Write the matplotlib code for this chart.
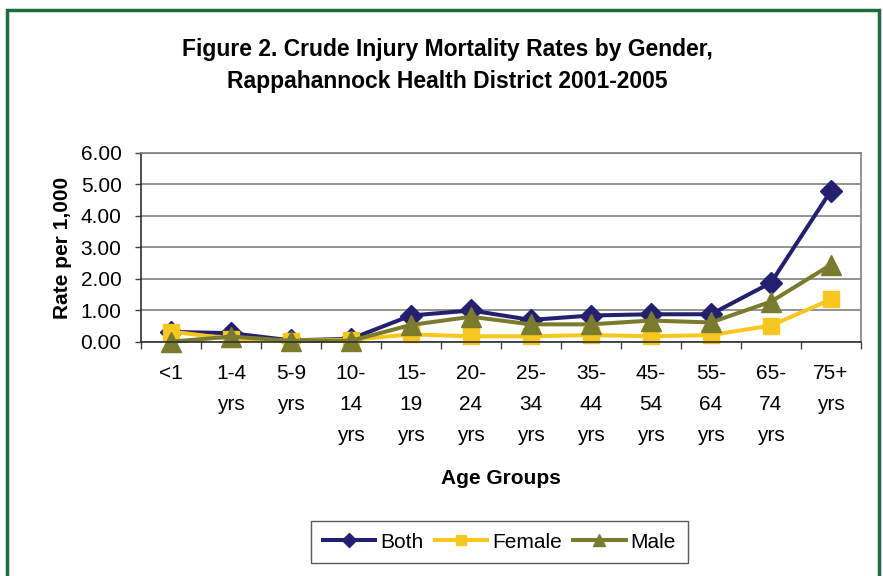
import matplotlib.pyplot as plt
import numpy as np
from matplotlib.patches import Rectangle

plt.rcParams['font.family'] = ['Liberation Sans', 'DejaVu Sans']

# Data
age_groups = ['<1', '1-4\nyrs', '5-9\nyrs', '10-\n14\nyrs', '15-\n19\nyrs', '20-\n24\nyrs',
              '25-\n34\nyrs', '35-\n44\nyrs', '45-\n54\nyrs', '55-\n64\nyrs', '65-\n74\nyrs', '75+\nyrs']
both = [0.32, 0.28, 0.05, 0.10, 0.84, 1.00, 0.70, 0.84, 0.88, 0.88, 1.88, 4.80]
female = [0.33, 0.10, 0.04, 0.07, 0.24, 0.18, 0.18, 0.22, 0.18, 0.22, 0.52, 1.35]
male = [0.01, 0.17, 0.04, 0.04, 0.54, 0.80, 0.56, 0.56, 0.68, 0.62, 1.28, 2.45]
y_ticks = [0, 1, 2, 3, 4, 5, 6]

fig = plt.figure(figsize=(8.83, 5.76), dpi=100)

# green outer frame
fig.patches.append(Rectangle((0.008, -0.05), 0.987, 1.032, transform=fig.transFigure,
                             fill=False, edgecolor='#1E6B3C', linewidth=2.5))

ax = fig.add_axes([0.1597, 0.4063, 0.8153, 0.3281])
x = np.arange(len(age_groups))

ax.plot(x, both, '-D', color='#232070', linewidth=2.9, markersize=11.5, label='Both', clip_on=False)
ax.plot(x, female, '-s', color='#F7C71F', linewidth=2.9, markersize=11.5, label='Female', clip_on=False)
ax.plot(x, male, '-^', color='#7B7B2E', linewidth=2.9, markersize=14, label='Male', clip_on=False)

ax.set_xlim(-0.5, len(age_groups) - 0.5)
ax.set_ylim(0, 6)
ax.set_yticks(y_ticks)
ax.set_yticklabels([f'{v:.2f}' for v in y_ticks], fontsize=15)
ax.yaxis.grid(True, color='#808080', linewidth=1.2)
ax.set_axisbelow(True)

ax.set_xticks(x)
ax.set_xticklabels(age_groups, fontsize=15, linespacing=1.8, va='top')
ax.tick_params(axis='x', which='major', length=0, pad=16)
ax.set_xticks(np.arange(-0.5, len(age_groups)), minor=True)
ax.tick_params(axis='x', which='minor', length=5, width=1, color='#404040')
ax.tick_params(axis='y', length=4, width=1, color='#404040', pad=10)

for s in ['top', 'right']:
    ax.spines[s].set_color('#808080')
    ax.spines[s].set_linewidth(1.2)
for s in ['left', 'bottom']:
    ax.spines[s].set_color('#303030')
    ax.spines[s].set_linewidth(1.2)

ax.set_ylabel('Rate per 1,000', fontsize=15, fontweight='bold', labelpad=6)
ax.set_xlabel('Age Groups', fontsize=15, fontweight='bold', labelpad=17)

fig.text(0.507, 0.914, 'Figure 2. Crude Injury Mortality Rates by Gender,', ha='center', va='center',
         fontsize=16.5, fontweight='bold')
fig.text(0.507, 0.858, 'Rappahannock Health District 2001-2005', ha='center', va='center',
         fontsize=16.5, fontweight='bold')

leg = fig.legend(loc='center', bbox_to_anchor=(0.5657, 0.059), ncol=3, fontsize=15,
                 frameon=True, fancybox=False, edgecolor='#303030', handlelength=2.5,
                 handletextpad=0.25, columnspacing=0.55, borderpad=0.55, markerscale=0.6)
leg.get_frame().set_linewidth(1.0)

fig.savefig('out.png', dpi=100, facecolor='white')
